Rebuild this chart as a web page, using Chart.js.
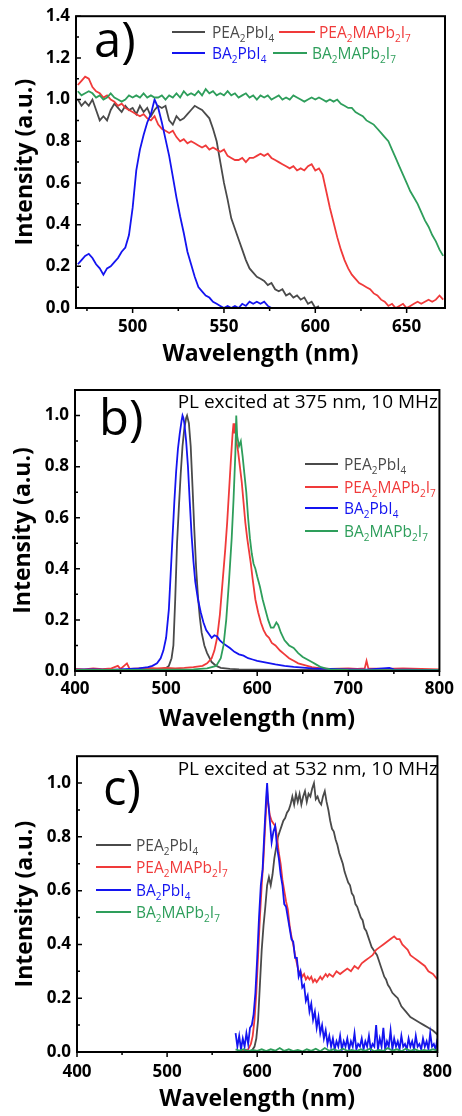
<!DOCTYPE html>
<html>
<head>
<meta charset="utf-8">
<script src="https://cdn.jsdelivr.net/npm/chart.js@4.4.0/dist/chart.umd.min.js"></script>
<style>
  body { margin: 0; background: #fff; }
  .panel { position: absolute; left: 0; width: 462px; }
</style>
</head>
<body>
<div class="panel" style="top:0;height:370px"><canvas id="ca"></canvas></div>
<div class="panel" style="top:370px;height:370px"><canvas id="cb"></canvas></div>
<div class="panel" style="top:740px;height:376px"><canvas id="cc"></canvas></div>
<script>
const seriesNames = ['PEA₂PbI₄', 'PEA₂MAPb₂I₇', 'BA₂PbI₄', 'BA₂MAPb₂I₇'];
const seriesColors = ['#4a4a4a', '#f03a3a', '#1414f0', '#2e9e5b'];

// panel a) absorption
const aWave = [470,472,474,476,478,480,482,484,486,488,490,492,494,496,498,500,502,504,506,508,
  510,512,514,516,518,520,522,524,526,528,530,532,534,536,538,540,542,544,546,548,
  550,552,554,556,558,560,562,564,566,568,570,572,574,576,578,580,582,584,586,588,
  590,592,594,596,598,600,602,604,606,608,610,612,614,616,618,620,622,624,626,628,
  630,632,634,636,638,640,642,644,646,648,650,652,654,656,658,660,662,664,666,668,670];
const aPea = [1.00,0.97,0.99,0.97,1.00,0.95,0.90,0.92,0.90,0.95,0.98,0.96,0.94,0.97,0.95,0.96,0.93,0.97,0.94,0.96,
  0.92,0.95,0.97,0.96,0.97,0.90,0.88,0.92,0.90,0.91,0.93,0.95,0.97,0.96,0.95,0.93,0.91,0.86,0.80,0.70,
  0.60,0.52,0.43,0.38,0.33,0.28,0.23,0.19,0.17,0.15,0.14,0.13,0.11,0.12,0.09,0.08,0.09,0.06,0.07,0.05,
  0.06,0.04,0.05,0.02,0.03,0.00,0.01];
const aPeaMa = [1.07,1.09,1.11,1.10,1.06,1.04,1.03,1.01,1.02,1.00,0.99,0.97,0.98,0.96,0.95,0.94,0.93,0.92,0.93,0.91,
  0.90,0.92,0.88,0.86,0.85,0.84,0.85,0.82,0.80,0.81,0.79,0.80,0.79,0.78,0.77,0.78,0.76,0.77,0.76,0.75,
  0.76,0.73,0.72,0.71,0.71,0.72,0.70,0.72,0.72,0.73,0.74,0.73,0.74,0.72,0.71,0.70,0.69,0.68,0.67,0.68,
  0.66,0.67,0.66,0.68,0.69,0.66,0.67,0.64,0.56,0.48,0.41,0.34,0.28,0.23,0.19,0.16,0.14,0.12,0.11,0.10,
  0.09,0.07,0.06,0.04,0.03,0.01,0.02,0.00,0.01,0.02,0.00,0.01,0.02,0.03,0.02,0.03,0.04,0.03,0.04,0.06,0.04];
const aBa = [0.21,0.23,0.25,0.26,0.24,0.21,0.19,0.16,0.19,0.20,0.22,0.24,0.27,0.29,0.35,0.48,0.66,0.76,0.83,0.89,
  0.93,1.00,0.96,0.89,0.81,0.73,0.63,0.53,0.44,0.36,0.27,0.21,0.15,0.10,0.08,0.06,0.05,0.03,0.02,0.01,
  0.00,0.01,0.00,0.01,0.00,0.02,0.01,0.03,0.02,0.03,0.02,0.03,0.01,0.00];
const aBaMa = [1.04,1.02,1.03,1.04,1.03,1.01,1.02,1.00,1.01,1.03,1.01,1.00,0.99,1.00,1.02,1.01,1.02,1.01,1.03,1.01,
  1.02,1.01,1.01,1.02,1.00,1.02,1.01,1.03,1.01,1.04,1.02,1.03,1.02,1.04,1.02,1.05,1.03,1.04,1.02,1.03,
  1.02,1.04,1.02,1.03,1.01,1.02,1.03,1.01,1.02,1.00,1.02,1.01,1.02,1.00,1.01,1.02,1.00,1.01,1.00,1.02,
  1.01,1.00,0.99,1.00,1.01,1.00,1.01,1.00,0.99,1.00,0.99,1.00,0.98,0.97,0.96,0.96,0.94,0.93,0.92,0.90,
  0.89,0.88,0.86,0.84,0.82,0.80,0.76,0.72,0.68,0.64,0.60,0.56,0.53,0.50,0.46,0.42,0.39,0.35,0.32,0.28,0.25];
const aXTicks = [500, 550, 600, 650];
const aXMinor = [475, 525, 575, 625];
const aYTicks = [0, 0.2, 0.4, 0.6, 0.8, 1.0, 1.2, 1.4];
const aYMinor = [0.1, 0.3, 0.5, 0.7, 0.9, 1.1, 1.3];

// panel b) PL, 375 nm excitation
const bPeaX = [400,420,440,460,480,490,496,500,503,506,508,510,512,514,516,518,520,522,523,525,
  527,529,531,533,535,537,539,542,545,550,555,560,570,580,600,650,700,750,800];
const bPea = [0.005,0.004,0.005,0.004,0.006,0.006,0.008,0.012,0.02,0.05,0.10,0.28,0.50,0.64,0.77,0.88,0.95,0.99,1.0,0.97,
  0.88,0.72,0.55,0.40,0.29,0.21,0.15,0.10,0.07,0.035,0.02,0.012,0.008,0.006,0.005,0.004,0.004,0.003,0.003];
const bPeaMaX = [400,410,420,430,440,447,450,457,460,470,480,490,500,510,520,530,540,545,550,553,
  556,559,562,565,567,569,571,573,574,575,576,577,579,581,583,585,587,589,591,593,
  595,598,601,604,607,610,613,616,620,625,630,635,640,645,650,655,660,670,680,700,
  710,718,720,722,740,760,780,800];
const bPeaMa = [0.008,0.006,0.01,0.007,0.01,0.02,0.008,0.03,0.008,0.01,0.012,0.01,0.012,0.01,0.012,0.015,0.02,0.03,0.05,0.08,
  0.13,0.22,0.35,0.48,0.58,0.70,0.82,0.93,0.97,0.93,0.97,0.90,0.86,0.80,0.74,0.66,0.58,0.52,0.47,0.42,
  0.36,0.28,0.23,0.19,0.16,0.14,0.13,0.11,0.10,0.08,0.065,0.05,0.04,0.03,0.025,0.02,0.015,0.01,0.008,0.01,
  0.008,0.01,0.04,0.01,0.008,0.01,0.008,0.006];
const bBaX = [400,420,440,460,470,480,485,490,494,497,500,503,505,507,509,511,513,515,517,518,
  519,520,522,524,526,528,530,532,535,538,541,544,547,550,553,556,559,562,566,570,
  575,580,585,590,595,600,610,620,630,640,650,660,680,700,720,745,750,780,800];
const bBa = [0.005,0.006,0.004,0.008,0.01,0.015,0.02,0.03,0.05,0.08,0.13,0.24,0.38,0.52,0.66,0.78,0.87,0.93,0.98,1.0,
  0.99,0.97,0.90,0.80,0.66,0.53,0.43,0.35,0.28,0.23,0.19,0.16,0.145,0.13,0.14,0.135,0.12,0.11,0.10,0.09,
  0.075,0.065,0.06,0.05,0.045,0.04,0.033,0.026,0.02,0.016,0.013,0.01,0.008,0.006,0.005,0.012,0.006,0.004,0.003];
const bBaMaX = [400,450,500,530,545,555,560,563,566,569,572,574,576,577,578,580,582,584,586,588,
  590,592,594,596,598,600,603,606,609,612,615,618,621,623,626,630,635,640,645,650,
  655,660,665,670,675,680,700,800];
const bBaMa = [0.004,0.004,0.005,0.006,0.01,0.02,0.05,0.10,0.20,0.35,0.52,0.67,0.85,1.0,0.92,0.88,0.90,0.84,0.77,0.70,
  0.60,0.52,0.46,0.42,0.40,0.37,0.33,0.28,0.24,0.20,0.17,0.17,0.19,0.18,0.15,0.12,0.10,0.09,0.07,0.055,
  0.045,0.035,0.025,0.015,0.01,0.006,0.004,0.003];

// panel c) PL, 532 nm excitation
const cPeaX = [576,580,585,590,594,597,599,601,603,605,607,609,611,613,615,617,619,621,623,625,
  627,629,631,633,635,637,639,641,643,645,647,649,651,653,655,657,659,661,663,665,
  667,669,671,673,675,677,679,681,683,685,687,689,691,693,695,697,699,701,703,705,
  707,709,711,713,715,717,719,721,723,725,727,729,731,733,735,737,739,741,743,745,
  747,750,753,756,760,765,770,775,780,785,790,795,800];
const cPea = [0.0,0.0,0.0,0.0,0.005,0.02,0.05,0.12,0.25,0.38,0.47,0.54,0.62,0.65,0.62,0.66,0.72,0.76,0.80,0.82,
  0.84,0.86,0.87,0.89,0.90,0.92,0.95,0.92,0.96,0.93,0.96,0.92,0.95,0.97,0.93,0.96,0.95,0.98,1.0,0.94,
  0.95,0.93,0.92,0.95,0.97,0.93,0.90,0.86,0.83,0.82,0.79,0.77,0.74,0.72,0.70,0.67,0.65,0.63,0.62,0.59,
  0.58,0.55,0.54,0.52,0.50,0.49,0.46,0.45,0.43,0.41,0.39,0.38,0.37,0.36,0.34,0.32,0.30,0.28,0.27,0.25,
  0.24,0.22,0.21,0.20,0.17,0.15,0.13,0.12,0.11,0.10,0.09,0.08,0.065];
const cPeaMaX = [576,580,585,590,593,595,597,599,601,603,605,607,609,611,612,614,616,618,620,622,
  624,626,628,630,632,634,636,638,640,642,644,646,648,650,652,654,656,658,660,662,
  664,666,668,670,672,674,676,678,680,684,688,692,696,700,704,708,712,716,720,724,
  728,732,736,740,744,748,752,755,758,761,764,767,770,774,778,782,786,790,795,800];
const cPeaMa = [0.0,0.0,0.005,0.01,0.03,0.06,0.12,0.22,0.36,0.50,0.62,0.72,0.85,0.97,0.93,0.88,0.86,0.85,0.84,0.80,
  0.74,0.70,0.64,0.60,0.56,0.53,0.47,0.43,0.40,0.36,0.33,0.30,0.30,0.28,0.29,0.27,0.28,0.27,0.28,0.26,
  0.27,0.26,0.27,0.28,0.27,0.28,0.29,0.28,0.29,0.28,0.30,0.29,0.30,0.31,0.30,0.32,0.31,0.33,0.34,0.35,
  0.36,0.38,0.39,0.40,0.41,0.42,0.43,0.42,0.42,0.40,0.39,0.38,0.36,0.35,0.34,0.33,0.32,0.30,0.29,0.27];
const cBaX = [576,578,580,582,584,586,588,590,592,594,596,598,600,602,604,606,608,610,611,
  612,614,616,618,620,622,624,626,628,630,632,634,636,638,640,642,644,646,648,650,
  652,654,656,658,660,662,664,666,668,670,672,674,676,678,680,682,684,686,688,690,
  692,694,696,698,700,702,704,706,708,710,712,714,716,718,720,722,724,726,728,730,
  732,734,736,738,740,742,744,746,748,750,752,754,756,758,760,762,764,766,768,770,
  772,774,776,778,780,782,784,786,788,790,792,794,796,798,800];
const cBa = [0.07,0.02,0.06,0.01,0.05,0.02,0.07,0.03,0.09,0.10,0.14,0.22,0.35,0.50,0.62,0.68,0.82,0.95,1.00,
  0.94,0.86,0.78,0.82,0.84,0.76,0.72,0.66,0.62,0.55,0.54,0.50,0.46,0.42,0.41,0.35,0.35,0.28,0.30,0.24,
  0.25,0.19,0.21,0.15,0.18,0.12,0.15,0.09,0.13,0.07,0.10,0.05,0.08,0.03,0.06,0.02,0.05,0.01,0.04,0.02,
  0.06,0.01,0.04,0.02,0.05,0.01,0.04,0.02,0.07,0.01,0.03,0.02,0.05,0.01,0.04,0.02,0.06,0.01,0.03,0.02,
  0.10,0.01,0.05,0.02,0.09,0.01,0.04,0.02,0.08,0.01,0.05,0.02,0.04,0.01,0.06,0.02,0.03,0.01,0.05,0.02,
  0.04,0.01,0.06,0.02,0.03,0.01,0.05,0.02,0.04,0.01,0.07,0.02,0.03,0.01,0.05];
const cBaMaX = [576,580,585,590,595,600,605,610,615,620,625,630,635,640,645,650,655,660,665,670,
  675,680,685,690,695,700,705,710,715,720,725,730,735,740,745,750,755,760,765,770,
  775,780,785,790,795,800];
const cBaMa = [0.01,0.005,0.01,0.003,0.008,0.004,0.01,0.003,0.01,0.005,0.015,0.004,0.01,0.003,0.008,0.002,0.01,0.004,0.012,0.003,
  0.015,0.005,0.01,0.003,0.012,0.004,0.008,0.003,0.01,0.004,0.012,0.003,0.008,0.004,0.015,0.005,0.01,0.003,0.012,0.004,
  0.01,0.003,0.008,0.004,0.01,0.005];

const plXTicks = [400, 500, 600, 700, 800];
const plXMinor = [450, 550, 650, 750];
const plYTicks = [0, 0.2, 0.4, 0.6, 0.8, 1.0];
const plYMinor = [0.1, 0.3, 0.5, 0.7, 0.9];

Chart.defaults.font.family = "'Open Sans', sans-serif";
Chart.defaults.color = '#000';

const SUBS = '₀₁₂₃₄₅₆₇₈₉';

function drawChem(ctx, text, x, y, size, color) {
  ctx.fillStyle = color;
  ctx.textAlign = 'left';
  ctx.textBaseline = 'alphabetic';
  let cx = x;
  for (const ch of text) {
    const k = SUBS.indexOf(ch);
    if (k >= 0) {
      ctx.font = Math.round(size * 0.66) + "px 'Open Sans'";
      ctx.fillText(String(k), cx, y + size * 0.28);
      cx += ctx.measureText(String(k)).width;
    } else {
      ctx.font = size + "px 'Open Sans'";
      ctx.fillText(ch, cx, y);
      cx += ctx.measureText(ch).width;
    }
  }
}

// frame, ticks (x outward, y inward), panel letter, note and legend
const decor = {
  id: 'decor',
  afterDraw(chart, args, o) {
    const { ctx, chartArea: a, scales: { x, y } } = chart;
    ctx.save();
    ctx.strokeStyle = '#000';
    ctx.lineWidth = 1.5;
    ctx.beginPath();
    const tickX = (vals, len) => vals.forEach(v => {
      const p = x.getPixelForValue(v);
      ctx.moveTo(p, a.bottom); ctx.lineTo(p, a.bottom + len);
    });
    const tickY = (vals, len) => vals.forEach(v => {
      const p = y.getPixelForValue(v);
      ctx.moveTo(a.left, p); ctx.lineTo(a.left + len, p);
    });
    tickX(o.xMajor, 5); tickX(o.xMinor, 3);
    tickY(o.yMajor, 5); tickY(o.yMinor, 3);
    ctx.stroke();
    ctx.lineWidth = 2;
    ctx.strokeRect(a.left, a.top, a.width, a.height);

    ctx.fillStyle = '#000';
    ctx.textBaseline = 'alphabetic';
    ctx.textAlign = 'left';
    ctx.font = "49px 'Open Sans'";
    ctx.fillText(o.letter, o.letterX, o.letterY);
    if (o.note) {
      ctx.font = "19px 'Open Sans'";
      ctx.textAlign = 'right';
      ctx.fillText(o.note, o.noteX, o.noteY);
    }
    o.legend.forEach((it, i) => {
      const ds = chart.data.datasets[i];
      ctx.strokeStyle = ds.borderColor;
      ctx.lineWidth = 2;
      ctx.beginPath();
      ctx.moveTo(it.x1, it.y); ctx.lineTo(it.x2, it.y);
      ctx.stroke();
      drawChem(ctx, ds.label, it.tx, it.y + 5.5, 15.5, ds.borderColor);
    });
    ctx.restore();
  }
};

function makeChart(id, c) {
  return new Chart(document.getElementById(id), {
    type: 'line',
    data: {
      datasets: c.series.map((s, i) => ({
        label: seriesNames[i],
        data: s[1].map((v, k) => ({ x: s[0][k], y: v })),
        borderColor: seriesColors[i],
        borderWidth: 1.8,
        pointRadius: 0,
        tension: 0,
        order: 3 - i
      }))
    },
    options: {
      responsive: true,
      maintainAspectRatio: false,
      animation: false,
      events: [],
      layout: { padding: c.pad },
      plugins: { legend: { display: false }, tooltip: { enabled: false }, decor: c.decor },
      scales: {
        x: {
          type: 'linear', min: c.xMin, max: c.xMax,
          grid: { display: false, drawTicks: false },
          border: { display: false },
          ticks: { font: { size: 17, weight: 'bold' }, padding: c.xTickPad, autoSkip: false, maxRotation: 0 },
          afterBuildTicks: s => { s.ticks = c.decor.xMajor.map(v => ({ value: v })); },
          afterFit: s => { s.height = c.xH; },
          title: { display: true, text: 'Wavelength (nm)', font: { size: 23, weight: 'bold' }, padding: { top: 0, bottom: c.xTitlePad } }
        },
        y: {
          min: 0, max: c.yMax,
          grid: { display: false, drawTicks: false },
          border: { display: false },
          ticks: { font: { size: 17, weight: 'bold' }, padding: 6, autoSkip: false, callback: v => v.toFixed(1) },
          afterBuildTicks: s => { s.ticks = c.decor.yMajor.map(v => ({ value: v })); },
          afterFit: s => { s.width = c.yW; },
          title: { display: true, text: 'Intensity (a.u.)', font: { size: 23, weight: 'bold' }, padding: { top: c.yTitlePad, bottom: 0 } }
        }
      }
    },
    plugins: [decor]
  });
}

makeChart('ca', {
  series: [[aWave, aPea], [aWave, aPeaMa], [aWave, aBa], [aWave, aBaMa]],
  xMin: 469, xMax: 671, yMax: 1.4,
  pad: { top: 15, right: 17, left: 0, bottom: 0 }, yW: 76, xH: 62,
  xTickPad: 9, xTitlePad: 2, yTitlePad: 12,
  decor: {
    xMajor: aXTicks, xMinor: aXMinor, yMajor: aYTicks, yMinor: aYMinor,
    letter: 'a)', letterX: 94, letterY: 57,
    legend: [
      { x1: 172, x2: 205, tx: 212, y: 32 },
      { x1: 279, x2: 315, tx: 319, y: 32 },
      { x1: 172, x2: 205, tx: 212, y: 53 },
      { x1: 273, x2: 307, tx: 312, y: 53 }
    ]
  }
});

makeChart('cb', {
  series: [[bPeaX, bPea], [bPeaMaX, bPeaMa], [bBaX, bBa], [bBaMaX, bBaMa]],
  xMin: 400, xMax: 800, yMax: 1.1,
  pad: { top: 20, right: 16, left: 0, bottom: 0 }, yW: 75, xH: 69,
  xTickPad: 8, xTitlePad: 7, yTitlePad: 10,
  decor: {
    xMajor: plXTicks, xMinor: plXMinor, yMajor: plYTicks, yMinor: plYMinor,
    letter: 'b)', letterX: 99, letterY: 65,
    note: 'PL excited at 375 nm, 10 MHz', noteX: 438, noteY: 38,
    legend: [
      { x1: 305, x2: 338, tx: 344, y: 94 },
      { x1: 305, x2: 338, tx: 344, y: 117 },
      { x1: 305, x2: 338, tx: 344, y: 138 },
      { x1: 305, x2: 338, tx: 344, y: 161 }
    ]
  }
});

makeChart('cc', {
  series: [[cPeaX, cPea], [cPeaMaX, cPeaMa], [cBaX, cBa], [cBaMaX, cBaMa]],
  xMin: 400, xMax: 800, yMax: 1.1,
  pad: { top: 15, right: 16, left: 0, bottom: 0 }, yW: 77, xH: 64,
  xTickPad: 10, xTitlePad: 3, yTitlePad: 12,
  decor: {
    xMajor: plXTicks, xMinor: plXMinor, yMajor: plYTicks, yMinor: plYMinor,
    letter: 'c)', letterX: 103, letterY: 65,
    note: 'PL excited at 532 nm, 10 MHz', noteX: 438, noteY: 35,
    legend: [
      { x1: 96, x2: 131, tx: 136, y: 105 },
      { x1: 96, x2: 131, tx: 136, y: 127 },
      { x1: 96, x2: 131, tx: 136, y: 150 },
      { x1: 96, x2: 131, tx: 136, y: 172 }
    ]
  }
});
</script>
</body>
</html>
